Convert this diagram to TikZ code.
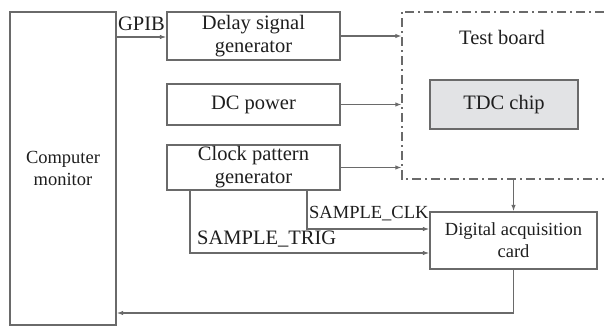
\documentclass[tikz,border=0pt]{standalone}
\usepackage{fontspec}
\setmainfont{Liberation Serif}
\usetikzlibrary{arrows.meta,positioning}

\definecolor{linegray}{HTML}{6A6A6A}
\definecolor{chipgray}{HTML}{E2E3E5}
\definecolor{inkgray}{HTML}{1E1E1E}

\tikzset{
  blk/.style={draw=linegray, line width=1.3pt, rectangle, align=center, inner sep=0pt,
    text=inkgray, font=\fontsize{20.5}{23}\selectfont},
  sig/.style={draw=linegray, line width=1.3pt, -{Latex[length=6.5pt,width=4.5pt]}},
  dashdot/.style={draw=linegray, line width=1.6pt, dash pattern=on 9pt off 4pt on 2pt off 4pt},
  lbl/.style={text=inkgray, inner sep=0pt, font=\fontsize{20.5}{23}\selectfont}
}

\begin{document}
\begin{tikzpicture}[x=1pt, y=-1pt]

\useasboundingbox (0,0) rectangle (604,326);

\node[blk, minimum width=106pt, minimum height=313pt, font=\fontsize{18.5}{22}\selectfont] (computer) at (63,168.5) {Computer\\monitor};
\node[blk, minimum width=173pt, minimum height=48pt] (delay) at (253.5,36) {Delay signal\\generator};
\node[blk, minimum width=173pt, minimum height=41pt] (dc) at (253.5,104.5) {DC power};
\node[blk, minimum width=173pt, minimum height=45pt] (clock) at (253.5,167.5) {Clock pattern\\generator};

% test board, cut at the right edge
\node[rectangle, minimum width=202pt, minimum height=167pt, inner sep=0pt] (board) at (503,95.5) {};
\draw[dashdot] (board.north east) -- (board.north west) -- (board.south west) -- (board.south east);
\node[lbl] (boardlbl) at (502,37) {Test board};
\node[blk, fill=chipgray, minimum width=148pt, minimum height=49pt] (tdc) at (504,104.5) {TDC chip};

\node[blk, minimum width=167pt, minimum height=57pt, font=\fontsize{18.5}{22}\selectfont] (card) at (513.5,240.5) {Digital acquisition\\card};

% connections
\draw[sig] (computer.east |- 0,37) -- (delay.west |- 0,37);
\node[lbl] (gpib) at (141.5,23.5) {GPIB};
\draw[sig] (delay.east) -- (board.west |- delay.east);
\draw[sig] (dc.east) -- (board.west |- dc.east);
\draw[sig] (clock.east) -- (board.west |- clock.east);
\draw[sig] (board.south -| card.north) -- (card.north);

\coordinate (clkturn) at (307,229);
\coordinate (trigturn) at (190,253);
\draw[sig] (clock.south -| clkturn) -- (clkturn) -- (card.west |- clkturn);
\draw[sig] (clock.south -| trigturn) -- (trigturn) -- (card.west |- trigturn);
\node[lbl, anchor=west, font=\fontsize{18.5}{22}\selectfont] (clklbl) at (309,214) {SAMPLE\_CLK};
\node[lbl, anchor=west] (triglbl) at (197,239) {SAMPLE\_TRIG};

\coordinate (retturn) at (513.5,313);
\draw[sig] (card.south) -- (retturn) -- (computer.east |- retturn);

\end{tikzpicture}
\end{document}
